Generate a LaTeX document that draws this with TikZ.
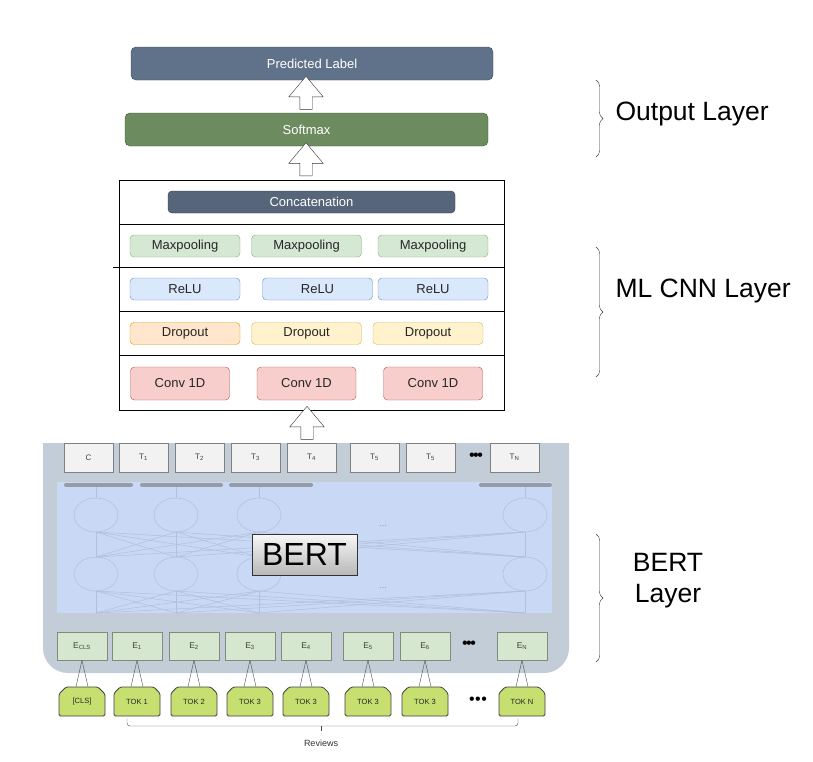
\documentclass[tikz,border=0pt]{standalone}
\usepackage{fontspec}
\setmainfont{Liberation Sans}
\usetikzlibrary{shapes.arrows, shapes.misc, decorations.pathreplacing}

\definecolor{predfill}{RGB}{96,114,137}
\definecolor{softfill}{RGB}{108,139,95}
\definecolor{concfill}{RGB}{86,101,122}
\definecolor{panelbg}{RGB}{194,205,216}
\definecolor{innerbg}{RGB}{201,216,245}
\definecolor{ghost}{RGB}{176,191,220}
\definecolor{tokfill}{RGB}{198,223,112}
\definecolor{embfill}{RGB}{214,231,207}

\begin{document}
\begin{tikzpicture}[x=1pt, y=-1pt]

\tikzset{block/.style = {rectangle, rounded corners=5pt, draw, inner sep=0pt, minimum height=33pt, text=white, font=\fontsize{13}{15}\selectfont}}
\tikzset{layer/.style = {rectangle, rounded corners=4pt, draw, inner sep=0pt, minimum width=110pt, minimum height=22pt, text=black!85, font=\fontsize{13}{15}\selectfont}}
\tikzset{upblock/.style = {single arrow, draw=black!80, fill=white, rotate=90, inner sep=6pt, minimum height=33pt, single arrow head extend=11pt, single arrow tip angle=80}}
\tikzset{tbox/.style = {rectangle, draw=black!50, fill=black!5, inner sep=0pt, minimum width=49pt, minimum height=29pt, text=black!75, font=\fontsize{8}{9}\selectfont}}
\tikzset{ebox/.style = {rectangle, draw=embfill!60!black, fill=embfill, inner sep=0pt, minimum width=50pt, minimum height=28pt, text=black!75, font=\fontsize{8.5}{10}\selectfont}}
\tikzset{tok/.style = {chamfered rectangle, chamfered rectangle corners={north west, north east}, chamfered rectangle xsep=7pt, rounded corners=1.5pt, draw=black!75, fill=tokfill, thick, inner sep=0pt, minimum width=46pt, minimum height=29pt, text=black!85, font=\fontsize{7.5}{8}\selectfont}}
\tikzset{dots/.style = {font=\fontsize{16}{16}\selectfont}}
\tikzset{sidelabel/.style = {font=\fontsize{26.5}{31}\selectfont, align=center}}
\tikzset{sidebrace/.style = {decorate, decoration={brace, amplitude=7pt}, black!80}}

\useasboundingbox (0,0) rectangle (813,761);

%output layer
\node[block, fill=predfill, draw=predfill!60!black, minimum width=362pt] (pred) at (312,63.5) {Predicted Label};
\node[block, fill=softfill, draw=softfill!60!black, minimum width=363pt] (soft) at (306.5,129.5) {Softmax};
\node[upblock] (a1) at (306,96.5) {};
\node[upblock] (a2) at (306,163) {};

%cnn layer
\node[draw, thick, inner sep=0pt, minimum width=385pt, minimum height=230pt] (cnn) at (311.5,295) {};
\draw[thick] (cnn.west |- 0,224) -- (cnn.east |- 0,224);
\draw[thick] (113,267) -- (cnn.east |- 0,267);
\draw[thick] (cnn.west |- 0,311) -- (cnn.east |- 0,311);
\draw[thick] (cnn.west |- 0,355) -- (cnn.east |- 0,355);
\node[layer, fill=concfill, draw=concfill!60!black, text=white, minimum width=287pt] (conc) at (311.5,202) {Concatenation};
\foreach \x [count=\i] in {185,306.5,433}
  \node[layer, fill={rgb,255:red,213;green,232;blue,212}, draw={rgb,255:red,130;green,179;blue,102}] (pool\i) at (\x,246) {Maxpooling};
\foreach \x [count=\i] in {185,317.5,433}
  \node[layer, fill={rgb,255:red,218;green,232;blue,252}, draw={rgb,255:red,108;green,142;blue,191}] (relu\i) at (\x,289) {ReLU};
\node[layer, fill={rgb,255:red,255;green,230;blue,204}, draw={rgb,255:red,215;green,155;blue,0}] (drop1) at (185,333.5) {Dropout};
\foreach \x [count=\i from 2] in {306.5,428}
  \node[layer, fill={rgb,255:red,255;green,242;blue,204}, draw={rgb,255:red,214;green,182;blue,86}] (drop\i) at (\x,333.5) {Dropout};
\foreach \x [count=\i] in {180,306.5,433}
  \node[layer, minimum width=99pt, minimum height=33pt, fill={rgb,255:red,248;green,206;blue,204}, draw={rgb,255:red,184;green,84;blue,80}] (conv\i) at (\x,383.5) {Conv 1D};
\node[upblock] (a3) at (307,426.5) {};

%bert layer
\fill[panelbg] (43,443) -- (569,443) {[rounded corners=25pt] -- (569,673) -- (43,673)} -- cycle;
\fill[innerbg] (57,482) rectangle (552,613);
\foreach \a/\b in {66/131, 142/221, 231/311, 481/550}
  \draw[line width=4pt, line cap=round, black!55, opacity=0.6] (\a,485) -- (\b,485);
\begin{scope}[ghost, line width=0.5pt]
  \foreach \x in {96,176,259,525} {
    \draw (\x,515) ellipse (22pt and 17pt);
    \draw (\x,574) ellipse (22pt and 17pt);
    \draw (\x,487) -- (\x,498);
    \foreach \y in {96,176,259,525} {
      \draw (\x,557) -- (\y,532);
      \draw (\x,613) -- (\y,591);
    }
  }
  \node[text=ghost!80!black, font=\fontsize{9}{9}\selectfont] (gdots1) at (383,526) {...};
  \node[text=ghost!80!black, font=\fontsize{9}{9}\selectfont] (gdots2) at (383,588) {...};
\end{scope}
\node[draw=black!80, inner sep=0pt, minimum width=105pt, minimum height=41pt, top color=black!3, bottom color=black!28, font=\fontsize{32}{36}\selectfont] (bert) at (304.5,554.5) {BERT};

%output tokens
\foreach \x/\lab [count=\i from 0] in {88.5/C, 143.5/{T\textsubscript{1}}, 199.5/{T\textsubscript{2}}, 255.5/{T\textsubscript{3}}, 311.5/{T\textsubscript{4}}, 374.5/{T\textsubscript{5}}, 430.5/{T\textsubscript{5}}, 514.5/{T\textsubscript{N}}}
  \node[tbox] (t\i) at (\x,457.5) {\lab};
\node[dots] (tdots) at (476,457) {\textbullet\kern-1.5pt\textbullet\kern-1.5pt\textbullet};

%embeddings and input tokens
\foreach \x/\lab/\tk [count=\i from 0] in {82/{E\textsubscript{CLS}}/{[CLS]}, 137/{E\textsubscript{1}}/TOK 1, 194/{E\textsubscript{2}}/TOK 2, 250/{E\textsubscript{3}}/TOK 3, 306/{E\textsubscript{4}}/TOK 3, 368/{E\textsubscript{5}}/TOK 3, 425/{E\textsubscript{6}}/TOK 3, 522/{E\textsubscript{N}}/TOK N} {
  \node[ebox] (e\i) at (\x,646) {\lab};
  \node[tok] (k\i) at (\x,701.5) {\tk};
  \draw[black!70] (e\i.south) -- ([xshift=-6pt]k\i.north) (e\i.south) -- ([xshift=6pt]k\i.north);
}
\node[dots] (edots) at (469,645) {\textbullet\kern-1.5pt\textbullet\kern-1.5pt\textbullet};
\node[dots] (kdots) at (478,701) {\textbullet\kern0.5pt\textbullet\kern0.5pt\textbullet};

%reviews
\node[font=\fontsize{9}{10}\selectfont, text=black!80] (rev) at (321,743) {Reviews};
\draw[black!70, rounded corners=3pt] ([yshift=-2pt]k1.south -| 127,0) -- (127,726) -- (518,726) -- ([yshift=-2pt]k7.south -| 518,0);
\draw[black!70] (321,726) -- (321,731);

%side labels
\draw[sidebrace] (596,80) -- (596,157);
\draw[sidebrace] (596,247) -- (596,377);
\draw[sidebrace] (596,534) -- (596,662);
\node[sidelabel, anchor=west] (outl) at (612,114) {Output Layer};
\node[sidelabel, anchor=west] (cnnl) at (612,291) {ML CNN Layer};
\node[sidelabel] (bertl) at (668,581) {BERT\\Layer};

\end{tikzpicture}
\end{document}
